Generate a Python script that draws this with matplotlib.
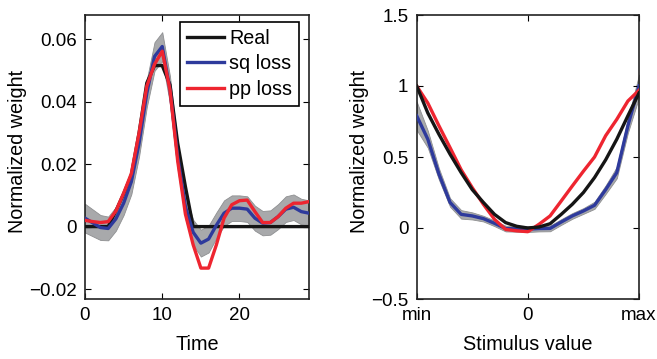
import matplotlib
matplotlib.use("Agg")
import matplotlib.pyplot as plt
import numpy as np

# ---------- data ----------
time = list(range(30))
real_t = [0, 0, 0, 0, 0.005, 0.0105, 0.0165, 0.030, 0.046, 0.0516, 0.0516, 0.0454, 0.0267, 0.0128,
          0, 0, 0, 0, 0, 0, 0, 0, 0, 0, 0, 0, 0, 0, 0, 0]
sq_t = [0.0027, 0.0012, -0.0003, -0.0006, 0.0025, 0.0075, 0.0144, 0.0267, 0.0427, 0.0545, 0.0577,
        0.0438, 0.0224, 0.0064, -0.0018, -0.0053, -0.0040, 0.0004, 0.0043, 0.0059, 0.0059, 0.0056,
        0.0027, 0.0011, 0.0013, 0.0032, 0.0056, 0.0062, 0.0048, 0.0043]
pp_t = [0.0020, 0.0016, 0.0013, 0.0016, 0.0050, 0.0107, 0.0170, 0.0300, 0.0450, 0.0520, 0.0562,
        0.0438, 0.0210, 0.0040, -0.0058, -0.0133, -0.0133, -0.0059, 0.0027, 0.0070, 0.0083, 0.0085,
        0.0048, 0.0013, 0.0013, 0.0032, 0.0059, 0.0075, 0.0075, 0.0080]
sq_t_err = [0.0046, 0.0043, 0.0040, 0.0038, 0.0038, 0.0038, 0.0040, 0.0042, 0.0044, 0.0046, 0.0046,
            0.0044, 0.0042, 0.0040, 0.0040, 0.0043, 0.0043, 0.0041, 0.0041, 0.0041, 0.0041, 0.0041,
            0.0040, 0.0039, 0.0039, 0.0040, 0.0041, 0.0041, 0.0041, 0.0041]

stim = [-1.0, -0.9, -0.8, -0.7, -0.6, -0.5, -0.4, -0.3, -0.2, -0.1, 0.0,
        0.1, 0.2, 0.3, 0.4, 0.5, 0.6, 0.7, 0.8, 0.9, 1.0]
real_s = [1.0, 0.81, 0.66, 0.52, 0.39, 0.27, 0.18, 0.096, 0.038, 0.012, 0.0,
          0.007, 0.030, 0.096, 0.167, 0.25, 0.355, 0.48, 0.625, 0.79, 0.95]
sq_s = [0.79, 0.625, 0.38, 0.18, 0.096, 0.085, 0.066, 0.033, -0.004, -0.006, -0.008,
        -0.004, -0.003, 0.042, 0.085, 0.12, 0.16, 0.27, 0.39, 0.72, 1.0]
pp_s = [1.0, 0.88, 0.72, 0.566, 0.41, 0.284, 0.167, 0.061, -0.01, -0.02, -0.026,
        0.026, 0.085, 0.19, 0.296, 0.40, 0.50, 0.65, 0.765, 0.894, 0.97]
sq_s_err = [0.10, 0.06, 0.04, 0.03, 0.03, 0.025, 0.02, 0.02, 0.02, 0.02, 0.02,
            0.02, 0.02, 0.02, 0.02, 0.02, 0.025, 0.03, 0.04, 0.05, 0.08]
stim_ticks = [-1, 0, 1]
stim_ticklabels = ["min", "0", "max"]

# ---------- style ----------
plt.rcParams['font.family'] = ['Liberation Sans', 'DejaVu Sans']
plt.rcParams['font.size'] = 13.5
plt.rcParams['axes.linewidth'] = 1.2

C_BLACK = '#151515'
C_BLUE = '#2e3a9c'
C_RED = '#ee2530'
C_BAND = '#a8a9ab'
C_BAND_EDGE = '#8e8f91'
LW = 2.4
XLABEL_SIZE = 14.3
YLABEL_SIZE = 14.2
TICK_SIZE = 13.5
LEGEND_SIZE = 14.2

fig = plt.figure(figsize=(6.57, 3.59), dpi=100)
ax1 = fig.add_axes([85/657, 1-299/359, 224/657, 284/359])
ax2 = fig.add_axes([416.7/657, 1-299/359, 222.3/657, 284/359])

# left panel
t = np.array(time)
sq = np.array(sq_t)
e = np.array(sq_t_err)
ax1.fill_between(t, sq - e, sq + e, facecolor=C_BAND, edgecolor=C_BAND_EDGE, linewidth=0.6, zorder=1)
ax1.plot(t, real_t, color=C_BLACK, lw=LW, label='Real', zorder=3)
ax1.plot(t, sq_t, color=C_BLUE, lw=LW, label='sq loss', zorder=4)
ax1.plot(t, pp_t, color=C_RED, lw=LW, label='pp loss', zorder=5)
ax1.set_xlim(0, 29)
ax1.set_ylim(-0.0232, 0.0678)
ax1.set_xticks([0, 10, 20])
ax1.set_yticks([-0.02, 0, 0.02, 0.04, 0.06])
ax1.set_yticklabels(['\u22120.02', '0', '0.02', '0.04', '0.06'])
ax1.set_xlabel('Time', fontsize=XLABEL_SIZE, labelpad=8)
ax1.set_ylabel('Normalized weight', fontsize=YLABEL_SIZE)
ax1.yaxis.set_label_coords(-0.26, 0.52)
leg = ax1.legend(loc='upper right', bbox_to_anchor=(0.955, 0.975), borderaxespad=0,
                 frameon=True, fancybox=False, handlelength=1.9, handletextpad=0.25,
                 borderpad=0.35, labelspacing=0.32, fontsize=LEGEND_SIZE)
leg.get_frame().set_edgecolor('black')
leg.get_frame().set_linewidth(1.2)
leg.get_frame().set_alpha(1)

# right panel
s = np.array(stim)
sqs = np.array(sq_s)
es = np.array(sq_s_err)
ax2.fill_between(s, sqs - es, sqs + es, facecolor=C_BAND, edgecolor=C_BAND_EDGE, linewidth=0.6, zorder=1)
ax2.plot(s, sq_s, color=C_BLUE, lw=LW, zorder=3)
ax2.plot(s, pp_s, color=C_RED, lw=LW, zorder=4)
ax2.plot(s, real_s, color=C_BLACK, lw=LW, zorder=5)
ax2.set_xlim(-1, 1)
ax2.set_ylim(-0.5, 1.5)
ax2.set_xticks(stim_ticks)
ax2.set_xticklabels(stim_ticklabels)
ax2.set_yticks([-0.5, 0, 0.5, 1, 1.5])
ax2.set_yticklabels(['\u22120.5', '0', '0.5', '1', '1.5'])
ax2.set_xlabel('Stimulus value', fontsize=XLABEL_SIZE, labelpad=8)
ax2.set_ylabel('Normalized weight', fontsize=YLABEL_SIZE)
ax2.yaxis.set_label_coords(-0.215, 0.52)

for ax in (ax1, ax2):
    ax.tick_params(direction='in', top=True, right=True, length=4, width=0.8, pad=6,
                   labelsize=TICK_SIZE)
    for sp in ax.spines.values():
        sp.set_color('#222222')

fig.savefig('out.png', dpi=100)
